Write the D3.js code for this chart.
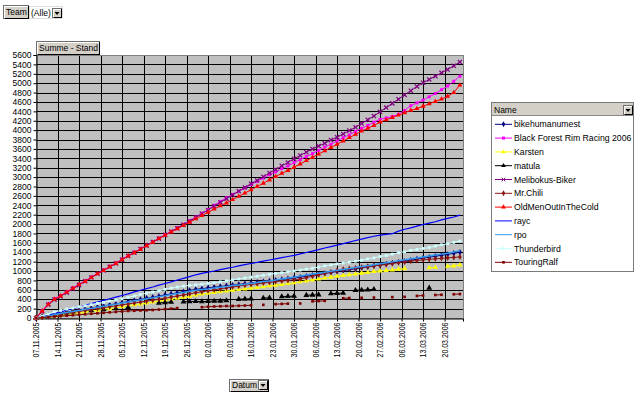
<!DOCTYPE html>
<html><head><meta charset="utf-8">
<script src="https://cdn.jsdelivr.net/npm/d3@7"></script>
<style>body{margin:0;background:#fff;} svg{display:block;font-family:"Liberation Sans",Arial,sans-serif;}</style>
</head><body><svg id="c" width="640" height="398"></svg>
<script>
// ---- data ----
const startDate = "07.11.2005";
const dayCount = 140;      // 07.11.2005 .. 26.03.2006
const sampleStep = 2;      // values below are read every 2nd day
const tickLabels = ["07.11.2005","14.11.2005","21.11.2005","28.11.2005","05.12.2005","12.12.2005","19.12.2005","26.12.2005","02.01.2006","09.01.2006","16.01.2006","23.01.2006","30.01.2006","06.02.2006","13.02.2006","20.02.2006","27.02.2006","06.03.2006","13.03.2006","20.03.2006"];
const yTicks = [0,200,400,600,800,1000,1200,1400,1600,1800,2000,2200,2400,2600,2800,3000,3200,3400,3600,3800,4000,4200,4400,4600,4800,5000,5200,5400,5600];
const seriesNames = ["bikehumanumest","Black Forest Rim Racing 2006","Karsten","matula","Melibokus-Biker","Mr.Chili","OldMenOutInTheCold","rayc","rpo","Thunderbird","TouringRalf"];

const bikehumanumest = [0,25,50,75,100,120,145,165,190,210,
 235,255,280,300,325,350,375,395,420,440,
 465,490,510,535,560,585,610,625,640,655,
 670,685,700,715,730,745,760,775,790,805,
 820,835,850,870,890,910,930,950,970,990,
 1010,1030,1050,1070,1090,1110,1130,1150,1170,1190,
 1210,1230,1255,1275,1295,1315,1335,1355,1380,1400];
const blackForest = [0,160,300,410,480,560,640,720,790,870,
 950,1020,1100,1170,1250,1330,1400,1470,1550,1620,
 1700,1770,1840,1920,1990,2070,2150,2230,2310,2400,
 2480,2560,2630,2700,2770,2840,2910,2980,3050,3110,
 3180,3240,3310,3370,3440,3500,3570,3640,3700,3770,
 3840,3900,3970,4040,4100,4170,4230,4260,4290,4340,
 4420,4520,4580,4640,4710,4780,4860,4940,5040,5150];
const karsten = [0,15,30,50,65,80,95,115,130,150,
 165,185,200,220,240,260,280,300,320,340,
 360,380,400,420,440,460,490,510,530,545,
 560,575,590,605,620,635,650,665,685,700,
 715,735,750,770,790,810,830,850,870,890,
 905,920,935,955,970,990,1000,1010,1020,1040,
 1050,null,null,null,1070,1075,null,1100,1110,1130];
const matula = [0,30,50,70,90,110,130,null,null,160,
 null,180,null,200,null,230,null,null,null,null,
 320,330,340,null,345,350,355,350,355,360,
 360,370,null,400,405,410,null,425,430,null,
 455,460,465,null,485,490,495,null,520,525,
 530,null,590,595,600,610,null,null,null,null,
 null,null,null,null,640,null,null,null,null,null];
const melibokus = [0,140,280,390,460,540,620,700,780,860,
 940,1010,1090,1160,1240,1320,1390,1470,1540,1620,
 1690,1770,1840,1910,1990,2060,2140,2220,2300,2380,
 2460,2540,2620,2700,2780,2860,2930,3010,3090,3160,
 3240,3310,3390,3460,3530,3600,3660,3720,3790,3850,
 3920,3990,4060,4140,4220,4300,4390,4480,4570,4660,
 4750,4840,4930,5010,5080,5150,5220,5290,5370,5450];
const mrChili = [0,20,40,60,80,100,120,140,160,180,
 200,220,240,260,280,300,320,340,360,380,
 400,420,445,470,490,515,540,560,580,600,
 620,640,660,680,700,715,730,745,760,775,
 790,800,815,830,860,890,920,950,980,1010,
 1035,1050,1065,1080,1095,1110,1125,1140,1160,1180,
 1195,1210,1225,1240,1250,1260,1270,1280,1290,1300];
const oldMen = [0,150,290,400,470,550,630,710,780,860,
 940,1010,1090,1160,1240,1320,1390,1460,1540,1610,
 1690,1760,1830,1900,1970,2040,2110,2180,2250,2320,
 2390,2450,2520,2590,2660,2730,2800,2870,2940,3010,
 3080,3140,3210,3280,3350,3420,3490,3560,3630,3700,
 3770,3840,3910,3980,4040,4100,4170,4220,4270,4320,
 4370,4420,4460,4510,4560,4610,4660,4720,4800,4960];
const rayc = [0,30,60,95,130,165,200,235,270,305,
 340,375,410,445,480,515,555,590,625,660,
 700,735,770,810,845,880,920,950,975,1000,
 1030,1055,1080,1110,1135,1160,1185,1210,1235,1260,
 1285,1310,1335,1365,1395,1425,1455,1490,1520,1550,
 1585,1615,1650,1680,1710,1740,1765,1780,1795,1850,
 1890,1920,1955,1990,2020,2050,2090,2120,2150,2190];
const rpo = [0,20,45,70,95,115,140,160,185,205,
 230,250,275,295,320,340,365,385,410,430,
 455,475,500,520,545,570,590,605,620,640,
 655,670,690,705,720,740,755,775,790,810,
 830,850,870,895,915,935,955,975,995,1015,
 1035,1055,1075,1095,1115,1135,1155,1175,1195,1220,
 1240,1260,1280,1300,1320,1340,1360,1380,1405,1430];
const thunderbird = [0,40,85,130,160,190,210,240,260,285,
 310,330,360,385,410,440,470,500,530,555,
 580,610,635,660,680,695,705,720,735,750,
 770,790,810,830,850,870,890,910,930,950,
 965,985,1000,1020,1040,1060,1085,1110,1130,1150,
 1170,1190,1210,1230,1260,1280,1310,1330,1360,1390,
 1410,1440,1460,1480,1500,1530,1560,1580,1610,1640];
const touringRalf = [0,10,20,30,40,50,60,70,80,90,
 100,110,120,130,140,150,155,160,165,170,
 180,190,200,210,null,null,null,230,240,245,
 250,255,255,260,265,270,null,280,null,295,
 300,305,null,310,null,355,360,365,null,null,
 420,425,null,430,null,435,null,null,445,null,
 450,null,470,480,null,490,495,null,505,510];

// ---- styles (kept separate from data) ----
const seriesValues = [bikehumanumest, blackForest, karsten, matula, melibokus, mrChili, oldMen, rayc, rpo, thunderbird, touringRalf];
const seriesStyle = [
  {color:"#000080", marker:"diamond", size:12, line:1},
  {color:"#FF00FF", marker:"square", size:9, line:1},
  {color:"#FFFF00", marker:"triangle", size:12, line:1},
  {color:"#000000", marker:"triangle", size:15, line:1},
  {color:"#800080", marker:"times", size:13, line:1},
  {color:"#8B1515", marker:"diamond", size:11, line:1},
  {color:"#FF0000", marker:"triangle", size:11, line:1},
  {color:"#0000FF", marker:null, size:0, line:1.2},
  {color:"#3399EE", marker:null, size:0, line:1.5},
  {color:"#CCFFFF", marker:"square", size:8, line:1},
  {color:"#800000", marker:"square", size:7, line:1}
];
const series = seriesNames.map((n,i)=>({name:n, values:seriesValues[i], ...seriesStyle[i]}));

// ---- scales ----
const parse = d3.utcParse("%d.%m.%Y");
const fmt = d3.utcFormat("%d.%m.%Y");
const d0 = parse(startDate);
const categories = d3.utcDay.range(d0, d3.utcDay.offset(d0, dayCount)).map(fmt);

const L = 36, R = 463, T = 55, B = 318;
const x = d3.scalePoint().domain(categories).range([L, R]);
const y = d3.scaleLinear().domain([0, 5600]).range([B, T]);
const cx = i => x(categories[i * sampleStep]);
const crisp = v => Math.round(v) + 0.5;

const svg = d3.select("#c");

// plot area
svg.append("rect").attr("x", L).attr("y", T).attr("width", R - L).attr("height", B - T).attr("fill", "#C0C0C0");
const grid = svg.append("g").attr("stroke", "#000").attr("stroke-width", 1).attr("shape-rendering","crispEdges");
yTicks.forEach(t => grid.append("line").attr("x1", L).attr("x2", R).attr("y1", crisp(y(t))).attr("y2", crisp(y(t))));
tickLabels.forEach(t => grid.append("line").attr("x1", crisp(x(t))).attr("x2", crisp(x(t))).attr("y1", T).attr("y2", B));
svg.append("rect").attr("x", L + 0.5).attr("y", T + 0.5).attr("width", R - L).attr("height", B - T)
  .attr("fill", "none").attr("stroke", "#808080").attr("shape-rendering","crispEdges");

// axes
const yAxis = svg.append("g").attr("transform", `translate(${L+0.5},0)`)
  .call(d3.axisLeft(y).tickValues(yTicks).tickSize(3).tickPadding(2).tickFormat(d3.format("d")));
yAxis.select(".domain").attr("stroke", "#000");
yAxis.selectAll("text").attr("font-size", "8.5px").attr("font-family", "Liberation Sans, Arial").attr("fill", "#000");

const xAxis = svg.append("g").attr("transform", `translate(0,${B+0.5})`)
  .call(d3.axisBottom(x).tickValues(tickLabels).tickSize(3).tickFormat(d => d));
xAxis.select(".domain").attr("stroke", "#000");
xAxis.selectAll("text")
  .attr("font-size", "8.5px").attr("font-family", "Liberation Sans, Arial").attr("fill", "#000")
  .attr("transform", "rotate(-90)").attr("text-anchor", "end")
  .attr("x", -4).attr("y", 0).attr("dy", "0.33em")
  .attr("textLength", 35).attr("lengthAdjust", "spacingAndGlyphs");

// series
const symbolTypes = {
  diamond: d3.symbolDiamond, square: d3.symbolSquare, triangle: d3.symbolTriangle,
  times: d3.symbolTimes || d3.symbolX || d3.symbolCross
};
const line = d3.line().defined(v => v != null).x((v, i) => cx(i)).y(v => y(v));
const plot = svg.append("g");
series.forEach(s => {
  const g = plot.append("g");
  g.append("path").attr("d", line(s.values)).attr("fill", "none")
    .attr("stroke", s.color).attr("stroke-width", s.line);
  if (s.marker) {
    const sym = d3.symbol().type(symbolTypes[s.marker]).size(s.size);
    const stroked = s.marker === "times";
    g.selectAll("path.m").data(s.values.map((v, i) => [v, i]).filter(d => d[0] != null))
      .join("path").attr("class", "m")
      .attr("transform", d => `translate(${cx(d[1])},${y(d[0])})`)
      .attr("d", sym())
      .attr("fill", stroked ? "none" : s.color)
      .attr("stroke", stroked ? s.color : "none").attr("stroke-width", 1.2);
  }
});

// ---- buttons ----
function button(x0, y0, w, h, label) {
  const g = svg.append("g");
  g.append("rect").attr("x", x0 + 0.5).attr("y", y0 + 0.5).attr("width", w).attr("height", h)
    .attr("fill", "#D4D0C8").attr("stroke", "#6f6f6f").attr("shape-rendering","crispEdges");
  g.append("path").attr("d", `M${x0+1.5},${y0+h-0.5}V${y0+1.5}H${x0+w-0.5}`).attr("stroke", "#fff").attr("fill","none").attr("shape-rendering","crispEdges");
  g.append("path").attr("d", `M${x0+1.5},${y0+h+0.5}H${x0+w+0.5}V${y0+0.5}`).attr("stroke", "#000").attr("fill","none").attr("shape-rendering","crispEdges");
  if (label) g.append("text").attr("x", x0 + 3).attr("y", y0 + h - 3).attr("font-size", "8.5px").text(label);
  return g;
}
function dropArrow(x0, y0) {
  button(x0, y0, 9, 9, null);
  svg.append("path").attr("d", `M${x0+2.5},${y0+4}h5l-2.5,3z`).attr("fill", "#000");
}

// Team filter
button(3, 5, 25, 13, "Team");
svg.append("rect").attr("x", 29.5).attr("y", 6.5).attr("width", 33).attr("height", 12).attr("fill", "#fff").attr("stroke", "#ddd");
svg.append("text").attr("x", 31).attr("y", 16).attr("font-size", "8.5px").text("(Alle)");
dropArrow(52, 8);

// data field
button(36, 41, 63, 13, "Summe - Stand");

// Datum field
button(229, 379, 39, 12, "Datum");
dropArrow(258, 380);

// ---- legend ----
const lg = svg.append("g");
lg.append("rect").attr("x", 491.5).attr("y", 102.5).attr("width", 142).attr("height", 169)
  .attr("fill", "#fff").attr("stroke", "#7a7a7a").attr("shape-rendering","crispEdges");
lg.append("rect").attr("x", 492).attr("y", 103).attr("width", 141).attr("height", 12.5).attr("fill", "#D4D0C8");
lg.append("line").attr("x1", 492).attr("x2", 633).attr("y1", 115.5).attr("y2", 115.5).attr("stroke", "#888").attr("shape-rendering","crispEdges");
lg.append("text").attr("x", 494).attr("y", 113).attr("font-size", "8.5px").text("Name");
dropArrow(623, 105);
series.forEach((s, i) => {
  const yy = 124.3 + i * 13.8;
  lg.append("line").attr("x1", 495).attr("x2", 512).attr("y1", yy).attr("y2", yy)
    .attr("stroke", s.color).attr("stroke-width", 1);
  if (s.marker) {
    const stroked = s.marker === "times";
    lg.append("path").attr("transform", `translate(503.5,${yy})`)
      .attr("d", d3.symbol().type(symbolTypes[s.marker]).size(Math.min(s.size, 10))())
      .attr("fill", stroked ? "none" : s.color).attr("stroke", stroked ? s.color : "none");
  }
  lg.append("text").attr("x", 514).attr("y", yy + 3).attr("font-size", "8.7px").text(s.name);
});
</script></body></html>
